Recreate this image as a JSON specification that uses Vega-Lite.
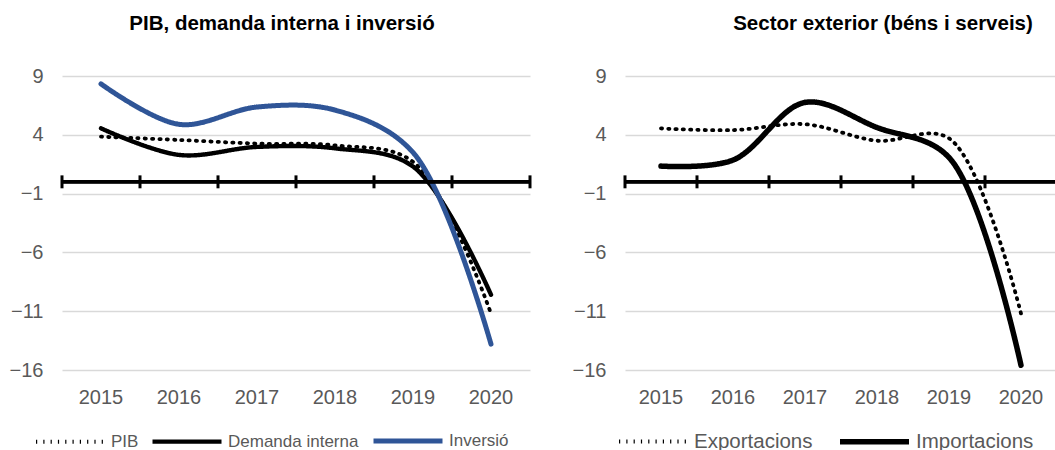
{
  "$schema": "https://vega.github.io/schema/vega-lite/v6.json",
  "padding": {"left": 9, "top": 13, "right": 0, "bottom": 0},
  "bounds": "flush",
  "spacing": 95,
  "resolve": {
    "scale": {"color": "independent", "strokeDash": "independent", "strokeWidth": "independent"},
    "legend": {"color": "independent", "strokeDash": "independent", "strokeWidth": "independent"}
  },
  "config": {
    "view": {"stroke": null},
    "font": "Liberation Sans",
    "axis": {"labelFont": "Liberation Sans", "labelColor": "#595959", "labelFontSize": 20},
    "title": {"font": "Liberation Sans", "fontSize": 20.5, "fontWeight": "bold", "color": "#000000"}
  },
  "datasets": {
    "left": [
      {"year": "2015", "serie": "PIB", "value": 3.84},
      {"year": "2016", "serie": "PIB", "value": 3.56},
      {"year": "2017", "serie": "PIB", "value": 3.25},
      {"year": "2018", "serie": "PIB", "value": 3.1},
      {"year": "2019", "serie": "PIB", "value": 1.7},
      {"year": "2020", "serie": "PIB", "value": -11.2},
      {"year": "2015", "serie": "Demanda interna", "value": 4.55},
      {"year": "2016", "serie": "Demanda interna", "value": 2.29},
      {"year": "2017", "serie": "Demanda interna", "value": 2.97},
      {"year": "2018", "serie": "Demanda interna", "value": 2.85},
      {"year": "2019", "serie": "Demanda interna", "value": 1.3},
      {"year": "2020", "serie": "Demanda interna", "value": -9.6},
      {"year": "2015", "serie": "Inversió", "value": 8.33},
      {"year": "2016", "serie": "Inversió", "value": 4.89},
      {"year": "2017", "serie": "Inversió", "value": 6.36},
      {"year": "2018", "serie": "Inversió", "value": 6.1},
      {"year": "2019", "serie": "Inversió", "value": 2.5},
      {"year": "2020", "serie": "Inversió", "value": -13.8}
    ],
    "right": [
      {"year": "2015", "flux": "Exportacions", "value": 4.54},
      {"year": "2016", "flux": "Exportacions", "value": 4.4},
      {"year": "2017", "flux": "Exportacions", "value": 4.9},
      {"year": "2018", "flux": "Exportacions", "value": 3.5},
      {"year": "2019", "flux": "Exportacions", "value": 3.7},
      {"year": "2020", "flux": "Exportacions", "value": -11.2},
      {"year": "2015", "flux": "Importacions", "value": 1.34},
      {"year": "2016", "flux": "Importacions", "value": 1.85},
      {"year": "2017", "flux": "Importacions", "value": 6.75},
      {"year": "2018", "flux": "Importacions", "value": 4.62},
      {"year": "2019", "flux": "Importacions", "value": 2.07},
      {"year": "2020", "flux": "Importacions", "value": -15.6}
    ],
    "years": [
      {"year": "2015"}, {"year": "2016"}, {"year": "2017"},
      {"year": "2018"}, {"year": "2019"}, {"year": "2020"}
    ]
  },
  "hconcat": [
    {
      "width": 468,
      "height": 294,
      "title": {"text": "PIB, demanda interna i inversió", "anchor": "middle", "dx": -14, "offset": 32},
      "layer": [
        {
          "data": {"name": "left"},
          "mark": {"type": "line", "interpolate": "catmull-rom", "strokeCap": "round"},
          "encoding": {
            "x": {"field": "year", "type": "ordinal", "title": null,
                  "scale": {"type": "band", "paddingInner": 0, "paddingOuter": 0},
                  "axis": {"domain": false, "ticks": false, "grid": false, "labelAngle": 0, "labelPadding": 17}},
            "y": {"field": "value", "type": "quantitative", "title": null,
                  "scale": {"domain": [-16, 9], "nice": false, "zero": false},
                  "axis": {"values": [-16, -11, -6, -1, 4, 9], "domain": false, "ticks": false, "grid": true,
                           "gridColor": "#d9d9d9", "gridWidth": 1.5, "labelPadding": 19}},
            "color": {"field": "serie", "type": "nominal",
                      "scale": {"domain": ["PIB", "Demanda interna", "Inversió"], "range": ["#000000", "#000000", "#2F5597"]},
                      "legend": {"orient": "none", "direction": "horizontal", "legendX": -28, "legendY": 351, "title": null,
                                 "symbolType": "M-3,0H3", "symbolSize": 529, "symbolOffset": 23, "labelOffset": 27,
                                 "columnPadding": 4, "labelFontSize": 17, "labelColor": "#595959", "labelFont": "Liberation Sans"}},
            "strokeDash": {"field": "serie", "type": "nominal",
                           "scale": {"domain": ["PIB", "Demanda interna", "Inversió"], "range": [[1.2, 6.1], [1, 0], [1, 0]]}},
            "strokeWidth": {"field": "serie", "type": "nominal",
                            "scale": {"domain": ["PIB", "Demanda interna", "Inversió"], "range": [3.8, 5, 5]}}
          }
        },
        {
          "data": {"name": "years"},
          "mark": {"type": "rule", "color": "#000000", "strokeWidth": 3},
          "encoding": {"y": {"datum": 0}}
        },
        {
          "data": {"name": "years"},
          "mark": {"type": "rule", "color": "#000000", "strokeWidth": 3},
          "encoding": {
            "x": {"field": "year", "type": "ordinal", "bandPosition": 0, "title": null},
            "y": {"datum": -0.55},
            "y2": {"datum": 0.55}
          }
        },
        {
          "data": {"name": "years"},
          "transform": [{"filter": "datum.year == '2020'"}],
          "mark": {"type": "rule", "color": "#000000", "strokeWidth": 3},
          "encoding": {
            "x": {"field": "year", "type": "ordinal", "bandPosition": 1, "title": null},
            "y": {"datum": -0.55},
            "y2": {"datum": 0.55}
          }
        }
      ]
    },
    {
      "width": 432,
      "height": 294,
      "title": {"text": "Sector exterior (béns i serveis)", "anchor": "middle", "dx": 42, "offset": 32},
      "layer": [
        {
          "data": {"name": "right"},
          "mark": {"type": "line", "interpolate": "catmull-rom", "strokeCap": "round"},
          "encoding": {
            "x": {"field": "year", "type": "ordinal", "title": null,
                  "scale": {"type": "band", "paddingInner": 0, "paddingOuter": 0},
                  "axis": {"domain": false, "ticks": false, "grid": false, "labelAngle": 0, "labelPadding": 17}},
            "y": {"field": "value", "type": "quantitative", "title": null,
                  "scale": {"domain": [-16, 9], "nice": false, "zero": false},
                  "axis": {"values": [-16, -11, -6, -1, 4, 9], "domain": false, "ticks": false, "grid": true,
                           "gridColor": "#d9d9d9", "gridWidth": 1.5, "labelPadding": 19}},
            "color": {"field": "flux", "type": "nominal",
                      "scale": {"domain": ["Exportacions", "Importacions"], "range": ["#000000", "#000000"]},
                      "legend": {"orient": "none", "direction": "horizontal", "legendX": -8, "legendY": 351, "title": null,
                                 "symbolType": "M-3,0H3", "symbolSize": 529, "symbolOffset": 23, "labelOffset": 27,
                                 "columnPadding": 16, "labelFontSize": 20.5, "labelColor": "#595959", "labelFont": "Liberation Sans"}},
            "strokeDash": {"field": "flux", "type": "nominal",
                           "scale": {"domain": ["Exportacions", "Importacions"], "range": [[1.2, 6.1], [1, 0]]}},
            "strokeWidth": {"field": "flux", "type": "nominal",
                            "scale": {"domain": ["Exportacions", "Importacions"], "range": [3.8, 5.5]}}
          }
        },
        {
          "data": {"name": "years"},
          "mark": {"type": "rule", "color": "#000000", "strokeWidth": 3},
          "encoding": {"y": {"datum": 0}}
        },
        {
          "data": {"name": "years"},
          "mark": {"type": "rule", "color": "#000000", "strokeWidth": 3},
          "encoding": {
            "x": {"field": "year", "type": "ordinal", "bandPosition": 0, "title": null},
            "y": {"datum": -0.55},
            "y2": {"datum": 0.55}
          }
        }
      ]
    }
  ]
}
